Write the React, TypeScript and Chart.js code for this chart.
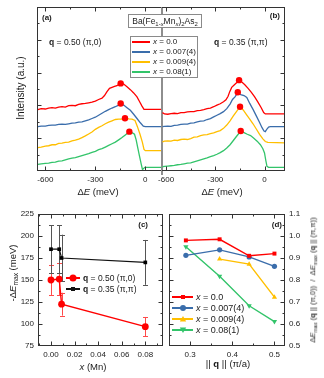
import React, { useEffect, useRef } from 'react';
import { Chart, registerables } from 'chart.js';
Chart.register(...registerables);

const FONT = '"Liberation Sans", Arial, Helvetica, sans-serif';
const W = 324;
const H = 378;

type Pt = [number, number];

// ---------- colours ----------
const C_RED = '#ff0000';
const C_BLUE = '#3a6dab';
const C_ORANGE = '#ffbf00';
const C_GREEN = '#33c46a';

// ---------- panel (a): q = 0.50 (pi,0) spectra [ΔE (meV), intensity a.u.] ----------
const specA_x000: Pt[] = [[-645,1.87],[-625,1.90],[-600,1.89],[-580,1.92],[-560,1.93],[-540,1.92],[-520,1.95],[-500,1.96],[-480,1.95],[-460,1.99],[-440,2.00],[-420,1.99],[-400,2.03],[-380,2.05],[-360,2.06],[-340,2.08],[-320,2.10],[-300,2.13],[-280,2.18],[-260,2.22],[-245,2.30],[-230,2.42],[-215,2.52],[-200,2.55],[-185,2.58],[-170,2.60],[-150,2.68],[-130,2.65],[-110,2.57],[-90,2.48],[-70,2.38],[-50,2.26],[-35,2.12],[-20,1.98],[-8,1.88],[100,1.88]];
const specA_x007: Pt[] = [[-645,1.35],[-625,1.37],[-600,1.37],[-580,1.39],[-560,1.40],[-540,1.40],[-520,1.42],[-500,1.43],[-480,1.42],[-460,1.44],[-440,1.46],[-420,1.47],[-400,1.49],[-380,1.50],[-360,1.53],[-340,1.56],[-320,1.60],[-300,1.64],[-280,1.70],[-260,1.76],[-240,1.82],[-220,1.87],[-200,1.92],[-180,1.96],[-160,2.01],[-148,2.05],[-130,2.01],[-110,1.93],[-90,1.85],[-70,1.73],[-50,1.60],[-30,1.47],[-12,1.37],[0,1.35],[100,1.35]];
const specA_x009: Pt[] = [[-645,0.71],[-625,0.73],[-600,0.76],[-580,0.77],[-560,0.80],[-540,0.80],[-520,0.84],[-500,0.85],[-480,0.87],[-460,0.88],[-440,0.92],[-420,0.94],[-400,0.97],[-380,1.02],[-360,1.07],[-340,1.13],[-320,1.19],[-300,1.27],[-280,1.33],[-260,1.38],[-240,1.44],[-220,1.49],[-200,1.53],[-180,1.57],[-160,1.58],[-140,1.58],[-122,1.61],[-100,1.59],[-80,1.58],[-62,1.54],[-48,1.36],[-32,1.12],[-18,0.88],[-8,0.66],[0,0.62],[100,0.62]];
const specA_x080: Pt[] = [[-645,0.20],[-625,0.22],[-600,0.23],[-580,0.24],[-560,0.26],[-540,0.27],[-520,0.30],[-500,0.31],[-480,0.34],[-460,0.37],[-440,0.39],[-420,0.41],[-400,0.44],[-380,0.47],[-360,0.50],[-340,0.53],[-320,0.57],[-300,0.60],[-280,0.65],[-260,0.68],[-240,0.73],[-220,0.78],[-200,0.83],[-180,0.88],[-160,0.95],[-140,1.02],[-120,1.10],[-96,1.20],[-80,1.17],[-65,1.12],[-55,0.95],[-45,0.70],[-35,0.45],[-25,0.22],[-17,0.04],[-10,0.08],[-3,0.11],[100,0.11]];
const peaksA_E = [-148, -148, -122, -96];
const peaksA_I = [2.67, 2.06, 1.61, 1.20];

// ---------- panel (b): q = 0.35 (pi,pi) spectra ----------
const specB_x000: Pt[] = [[-622,1.78],[-610,1.74],[-590,1.73],[-570,1.75],[-550,1.76],[-530,1.75],[-510,1.78],[-490,1.78],[-470,1.80],[-450,1.81],[-430,1.81],[-410,1.84],[-390,1.85],[-370,1.87],[-350,1.90],[-330,1.92],[-310,1.96],[-290,2.01],[-270,2.05],[-250,2.11],[-235,2.17],[-222,2.28],[-212,2.42],[-200,2.55],[-185,2.62],[-172,2.68],[-155,2.76],[-140,2.72],[-120,2.63],[-100,2.52],[-80,2.40],[-60,2.26],[-40,2.10],[-20,1.93],[-5,1.78],[5,1.74],[125,1.74]];
const specB_x007: Pt[] = [[-622,1.35],[-610,1.36],[-590,1.37],[-570,1.36],[-550,1.39],[-530,1.40],[-510,1.42],[-490,1.43],[-470,1.43],[-450,1.46],[-430,1.47],[-410,1.50],[-390,1.52],[-370,1.53],[-350,1.57],[-330,1.60],[-310,1.65],[-290,1.70],[-270,1.75],[-250,1.81],[-230,1.90],[-210,2.04],[-195,2.18],[-180,2.26],[-163,2.39],[-145,2.33],[-125,2.30],[-108,2.24],[-90,2.06],[-70,1.88],[-50,1.68],[-30,1.48],[-15,1.32],[-3,1.22],[5,1.20],[15,1.28],[25,1.34],[35,1.35],[125,1.35]];
const specB_x009: Pt[] = [[-622,0.89],[-610,0.91],[-590,0.92],[-570,0.91],[-550,0.94],[-530,0.93],[-510,0.96],[-490,0.97],[-470,0.96],[-450,0.99],[-430,1.03],[-410,1.04],[-390,1.08],[-370,1.10],[-350,1.11],[-330,1.14],[-310,1.16],[-290,1.20],[-270,1.23],[-250,1.30],[-230,1.40],[-210,1.53],[-190,1.68],[-170,1.82],[-149,1.96],[-130,1.86],[-110,1.72],[-90,1.58],[-70,1.44],[-50,1.28],[-30,1.12],[-10,0.98],[5,0.90],[20,0.87],[125,0.86]];
const specB_x080: Pt[] = [[-622,0.13],[-610,0.14],[-590,0.15],[-570,0.16],[-550,0.17],[-530,0.19],[-510,0.20],[-490,0.22],[-470,0.24],[-450,0.25],[-430,0.28],[-410,0.31],[-390,0.34],[-370,0.37],[-350,0.40],[-330,0.44],[-310,0.47],[-290,0.51],[-270,0.56],[-250,0.62],[-230,0.70],[-210,0.80],[-190,0.93],[-170,1.06],[-145,1.22],[-125,1.17],[-105,1.12],[-85,1.08],[-65,1.00],[-45,0.91],[-25,0.80],[-10,0.68],[0,0.55],[8,0.32],[15,0.14],[25,0.11],[125,0.11]];
const peaksB_E = [-155, -163, -149, -145];
const peaksB_I = [2.77, 2.40, 1.96, 1.22];

const dETickLabels = [-600, -300, 0];
const dEMinor = [-450, -150];
const intMajor = [0, 1, 2, 3, 4, 5];
const intMinor = [0.5, 1.5, 2.5, 3.5, 4.5];

// ---------- panel (c) ----------
const xMn = [0.0, 0.007, 0.009, 0.08];
const dEmaxPi0 = [150, 151, 122.5, 97];
const errPi0 = [17, 18, 13, 11];
const dEmaxPiPi = [185, 185, 175, 170];
const errPiPi = [27, 27, 26.5, 25.5];
const xMnTicks = [0, 0.02, 0.04, 0.06, 0.08];
const xMnMinor = [-0.01, 0.01, 0.03, 0.05, 0.07, 0.09];
const dEmaxTicks = [75, 100, 125, 150, 175, 200, 225];
const dEmaxMinor = [87.5, 112.5, 137.5, 162.5, 187.5, 212.5];

// ---------- panel (d) ----------
const qNorm = [0.29, 0.37, 0.44, 0.5];
const ratio_x000 = [0.98, 0.985, 0.91, 0.92];
const ratio_x007 = [0.912, 0.937, 0.905, 0.862];
const ratio_x009 = [null, 0.895, 0.872, 0.722];
const ratio_x080 = [0.951, 0.817, 0.683, 0.611];
const qTicks = [0.3, 0.4, 0.5];
const qMinor = [0.25, 0.35, 0.45];
const ratioTicks = [0.5, 0.6, 0.7, 0.8, 0.9, 1.0, 1.1];
const ratioMinor = [0.55, 0.65, 0.75, 0.85, 0.95, 1.05];

const legendX = ['0.0', '0.007(4)', '0.009(4)', '0.08(1)'];
const seriesColors = [C_RED, C_BLUE, C_ORANGE, C_GREEN];

// ---------- plugins ----------
const framePlugin = {
  id: 'frame',
  afterDatasetsDraw(chart: any, _args: any, o: any) {
    const { ctx, chartArea: a } = chart;
    const xs = chart.scales.x;
    const ys = chart.scales.y;
    const L = Math.round(a.left) + 0.5;
    const R = Math.round(a.right) - 0.5;
    const T = Math.round(a.top) + 0.5;
    const B = Math.round(a.bottom) - 0.5;
    ctx.save();
    ctx.strokeStyle = '#333';
    ctx.lineWidth = 1;
    ctx.beginPath();
    const tx = (vals: number[], len: number) => {
      for (const v of vals || []) {
        const p = Math.round(xs.getPixelForValue(v)) + 0.5;
        if (p < L + 1 || p > R - 1) continue;
        if (o.bottom) { ctx.moveTo(p, B); ctx.lineTo(p, B - len); }
        if (o.top) { ctx.moveTo(p, T); ctx.lineTo(p, T + len); }
      }
    };
    const ty = (vals: number[], len: number) => {
      for (const v of vals || []) {
        const p = Math.round(ys.getPixelForValue(v)) + 0.5;
        if (p < T + 1 || p > B - 1) continue;
        if (o.left) { ctx.moveTo(L, p); ctx.lineTo(L + len, p); }
        if (o.right) { ctx.moveTo(R, p); ctx.lineTo(R - len, p); }
      }
    };
    tx(o.xMajor, 4); tx(o.xMinor, 2); ty(o.yMajor, 4); ty(o.yMinor, 2);
    if (o.left) { ctx.moveTo(L, T - 0.5); ctx.lineTo(L, B + 0.5); }
    if (o.right) { ctx.moveTo(R, T - 0.5); ctx.lineTo(R, B + 0.5); }
    if (o.top) { ctx.moveTo(L - 0.5, T); ctx.lineTo(R + 0.5, T); }
    if (o.bottom) { ctx.moveTo(L - 0.5, B); ctx.lineTo(R + 0.5, B); }
    ctx.stroke();
    if (o.divider) {
      ctx.strokeStyle = '#8e8e8e';
      ctx.lineWidth = 2;
      ctx.beginPath();
      ctx.moveTo(Math.round(a.right), a.top);
      ctx.lineTo(Math.round(a.right), a.bottom + 4);
      ctx.stroke();
    }
    ctx.restore();
  },
};

const errorBarPlugin = {
  id: 'errbars',
  beforeDatasetsDraw(chart: any) {
    const { ctx } = chart;
    const xs = chart.scales.x;
    const ys = chart.scales.y;
    ctx.save();
    chart.data.datasets.forEach((ds: any) => {
      if (!ds.errs) return;
      ctx.strokeStyle = ds.errColor;
      ctx.lineWidth = 1;
      ds.data.forEach((p: any, i: number) => {
        const e = ds.errs[i];
        const x = Math.round(xs.getPixelForValue(p.x)) + 0.5;
        const y1 = ys.getPixelForValue(p.y - e);
        const y2 = ys.getPixelForValue(p.y + e);
        ctx.beginPath();
        ctx.moveTo(x, y1); ctx.lineTo(x, y2);
        ctx.moveTo(x - 2.5, Math.round(y1) + 0.5); ctx.lineTo(x + 2.5, Math.round(y1) + 0.5);
        ctx.moveTo(x - 2.5, Math.round(y2) + 0.5); ctx.lineTo(x + 2.5, Math.round(y2) + 0.5);
        ctx.stroke();
      });
    });
    ctx.restore();
  },
};

// ---------- helpers ----------
const tickFont = { family: FONT, size: 8 };

function axis(position: string, min: number, max: number, labels: number[], fmt: (v: number) => string, size: number, pad: number) {
  return {
    type: 'linear',
    position,
    min,
    max,
    grid: { display: false, drawTicks: false },
    border: { display: false },
    afterBuildTicks: (s: any) => { s.ticks = labels.map((v) => ({ value: v })); },
    afterFit: (s: any) => {
      if (position === 'bottom' || position === 'top') s.height = size; else s.width = size;
    },
    ticks: {
      display: labels.length > 0,
      font: tickFont,
      color: '#222',
      padding: pad,
      autoSkip: false,
      maxRotation: 0,
      callback: (v: any) => fmt(Number(v)),
    },
  };
}

const xy = (arr: Pt[]) => arr.map(([x, y]) => ({ x, y }));
const zip = (xs: number[], ys: (number | null)[]) => xs.map((x, i) => ({ x, y: ys[i] }));

function spectrumChart(specs: Pt[][], peaksE: number[], peaksI: number[], xmin: number, xmax: number, padding: any, frame: any) {
  return {
    type: 'scatter',
    data: {
      datasets: [
        {
          data: zip(peaksE, peaksI),
          pointRadius: 3.2,
          pointBackgroundColor: C_RED,
          pointBorderWidth: 0,
          showLine: false,
        },
        ...specs.map((s, i) => ({
          data: xy(s),
          showLine: true,
          borderColor: seriesColors[i],
          borderWidth: 1.3,
          pointRadius: 0,
          tension: 0,
        })),
      ],
    },
    options: {
      responsive: false,
      animation: false,
      devicePixelRatio: 1,
      layout: { padding },
      plugins: { legend: { display: false }, tooltip: { enabled: false }, frame },
      scales: {
        x: axis('bottom', xmin, xmax, dETickLabels, (v) => String(v), 30, 4),
        y: axis('left', 0, 5, [], (v) => String(v), 0, 0),
      },
    },
    plugins: [framePlugin],
  };
}

function makeConfigs() {
  const a = spectrumChart(
    [specA_x000, specA_x007, specA_x009, specA_x080], peaksA_E, peaksA_I, -650, 100,
    { left: 37, top: 7, right: W - 162, bottom: H - 171 - 30 },
    { xMajor: dETickLabels, xMinor: dEMinor, yMajor: intMajor, yMinor: intMinor, left: true, top: true, bottom: true, right: false, divider: true },
  );
  const b = spectrumChart(
    [specB_x000, specB_x007, specB_x009, specB_x080], peaksB_E, peaksB_I, -625, 125,
    { left: 162, top: 7, right: W - 285, bottom: H - 171 - 30 },
    { xMajor: dETickLabels, xMinor: dEMinor, yMajor: intMajor, yMinor: intMinor, left: false, top: true, bottom: true, right: true },
  );
  const c = {
    type: 'scatter',
    data: {
      datasets: [
        {
          data: zip(xMn, dEmaxPi0),
          errs: errPi0,
          errColor: '#ff4a4a',
          showLine: true,
          borderColor: C_RED,
          borderWidth: 1.4,
          pointRadius: 3.4,
          pointBackgroundColor: C_RED,
          pointBorderWidth: 0,
        },
        {
          data: zip(xMn, dEmaxPiPi),
          errs: errPiPi,
          errColor: '#555',
          showLine: true,
          borderColor: '#111',
          borderWidth: 1.2,
          pointStyle: 'rect',
          pointRadius: 2.6,
          pointBackgroundColor: '#000',
          pointBorderWidth: 0,
        },
      ],
    },
    options: {
      responsive: false,
      animation: false,
      devicePixelRatio: 1,
      layout: { padding: { left: 38 - 30, top: 214, right: W - 163, bottom: H - 346 - 22 } },
      plugins: {
        legend: { display: false }, tooltip: { enabled: false },
        frame: { xMajor: xMnTicks, xMinor: xMnMinor, yMajor: dEmaxTicks, yMinor: dEmaxMinor, left: true, right: true, top: true, bottom: true },
      },
      scales: {
        x: axis('bottom', -0.011, 0.095, xMnTicks, (v) => v.toFixed(2), 22, 4),
        y: axis('left', 75, 225, dEmaxTicks, (v) => String(v), 30, 4),
      },
    },
    plugins: [framePlugin, errorBarPlugin],
  };
  const dSeries = [ratio_x000, ratio_x007, ratio_x009, ratio_x080];
  const dStyles = ['rect', 'circle', 'triangle', 'triangle'];
  const dRot = [0, 0, 0, 180];
  const dRad = [2.8, 2.6, 3, 3];
  const d = {
    type: 'scatter',
    data: {
      datasets: dSeries.map((s, i) => ({
        data: zip(qNorm, s).filter((p) => p.y !== null),
        showLine: true,
        borderColor: seriesColors[i],
        borderWidth: 1.4,
        pointStyle: dStyles[i],
        rotation: dRot[i],
        pointRadius: dRad[i],
        pointBackgroundColor: seriesColors[i],
        pointBorderWidth: 0,
      })),
    },
    options: {
      responsive: false,
      animation: false,
      devicePixelRatio: 1,
      layout: { padding: { left: 169, top: 214, right: W - 285 - 30, bottom: H - 346 - 22 } },
      plugins: {
        legend: { display: false }, tooltip: { enabled: false },
        frame: { xMajor: qTicks, xMinor: qMinor, yMajor: ratioTicks, yMinor: ratioMinor, left: true, right: true, top: true, bottom: true },
      },
      scales: {
        x: axis('bottom', 0.25, 0.525, qTicks, (v) => v.toFixed(1), 22, 4),
        y: axis('right', 0.5, 1.1, ratioTicks, (v) => v.toFixed(1), 30, 4),
      },
    },
    plugins: [framePlugin],
  };
  return [a, b, c, d];
}

// ---------- text overlay helpers ----------
function T(props: { x: number; y: number; size?: number; align?: 'left' | 'center' | 'right'; bold?: boolean; rot?: number; children: any }) {
  const { x, y, size = 8, align = 'left', bold = false, rot = 0, children } = props;
  const tx = rot ? '-50%' : align === 'left' ? '0' : align === 'center' ? '-50%' : '-100%';
  return (
    <div
      style={{
        position: 'absolute', left: x, top: y,
        transform: `translate(${tx},-50%)${rot ? ` rotate(${rot}deg)` : ''}`,
        font: `${bold ? 'bold ' : ''}${size}px ${FONT}`,
        lineHeight: 1, whiteSpace: 'nowrap', color: '#1a1a1a',
      }}
    >
      {children}
    </div>
  );
}

const subStyle: any = { fontSize: '0.7em', verticalAlign: '-0.3em', lineHeight: 0 };
const Sub = ({ children }: any) => <span style={subStyle}>{children}</span>;
const I = ({ children }: any) => <i>{children}</i>;
const Bq = () => <b>q</b>;

function Marker({ style, color }: { style: string; color: string }) {
  let shape: any = null;
  if (style === 'circle') shape = <circle cx={5} cy={5} r={3} fill={color} />;
  if (style === 'bigcircle') shape = <circle cx={5} cy={5} r={3.5} fill={color} />;
  if (style === 'rect') shape = <rect x={3} y={3} width={4} height={4} fill={color} />;
  if (style === 'up') shape = <polygon points="5,2 8.2,7.5 1.8,7.5" fill={color} />;
  if (style === 'down') shape = <polygon points="5,8 8.2,2.5 1.8,2.5" fill={color} />;
  return <svg width={10} height={10} style={{ position: 'absolute', left: -5, top: -5 }}>{shape}</svg>;
}

function LegendRow({ x1, x2, y, color, marker, text, textX, size }: any) {
  return (
    <>
      <div style={{ position: 'absolute', left: x1, top: y - 0.75, width: x2 - x1, height: 1.5, background: color }} />
      {marker && (
        <div style={{ position: 'absolute', left: (x1 + x2) / 2, top: y, width: 0, height: 0 }}>
          <Marker style={marker} color={color} />
        </div>
      )}
      <T x={textX} y={y} size={size}>{text}</T>
    </>
  );
}

export default function App() {
  const refs = [useRef<HTMLCanvasElement>(null), useRef<HTMLCanvasElement>(null), useRef<HTMLCanvasElement>(null), useRef<HTMLCanvasElement>(null)];
  useEffect(() => {
    const cfgs = makeConfigs();
    const charts = cfgs.map((cfg, i) => new Chart(refs[i].current as HTMLCanvasElement, cfg as any));
    return () => charts.forEach((c) => c.destroy());
  }, []);

  const dMarkers = ['rect', 'circle', 'up', 'down'];
  return (
    <div style={{ position: 'absolute', left: 0, top: 0, width: W, height: H, background: '#fff', overflow: 'hidden' }}>
      {refs.map((r, i) => (
        <canvas key={i} ref={r} width={W} height={H} style={{ position: 'absolute', left: 0, top: 0, width: W, height: H }} />
      ))}

      {/* panel (a)/(b) texts */}
      <T x={21} y={88} size={10} rot={-90}>Intensity (a.u.)</T>
      <T x={98} y={192} size={9.5} align="center">Δ<I>E</I> (meV)</T>
      <T x={222} y={192} size={9.5} align="center">Δ<I>E</I> (meV)</T>
      <T x={42} y={18} size={8} bold>(a)</T>
      <T x={280} y={16} size={8} bold align="right">(b)</T>
      <T x={49} y={42} size={8.5}><Bq /> = 0.50 (π,0)</T>
      <T x={214} y={42} size={8.5}><Bq /> = 0.35 (π,π)</T>

      <div style={{ position: 'absolute', left: 128, top: 14, width: 74, height: 14, border: '1px solid #8a8a8a', background: '#fff', boxSizing: 'border-box' }} />
      <T x={165} y={21} size={8.5} align="center">Ba(Fe<Sub>1-<I>x</I></Sub>Mn<Sub><I>x</I></Sub>)<Sub>2</Sub>As<Sub>2</Sub></T>

      <div style={{ position: 'absolute', left: 130, top: 36, width: 68, height: 42, border: '1px solid #8a8a8a', background: '#fff', boxSizing: 'border-box' }} />
      {legendX.map((t, i) => (
        <LegendRow key={i} x1={132} x2={150} y={42 + i * 10} color={seriesColors[i]} textX={153} size={8} text={<><I>x</I> = {t}</>} />
      ))}

      {/* panel (c) texts */}
      <T x={12.5} y={273} size={9.5} rot={-90}>-Δ<I>E</I><Sub>max</Sub> (meV)</T>
      <T x={93} y={367} size={9.5} align="center"><I>x</I> (Mn)</T>
      <T x={148} y={225} size={8} bold align="right">(c)</T>
      <LegendRow x1={66} x2={80} y={278} color={C_RED} marker="bigcircle" textX={83} size={8.5} text={<><Bq /> = 0.50 (π,0)</>} />
      <LegendRow x1={66} x2={80} y={289} color="#111" marker="rect" textX={83} size={8.5} text={<><Bq /> = 0.35 (π,π)</>} />

      {/* panel (d) texts */}
      <T x={228} y={364} size={9.5} align="center">|| <Bq /> || (π/a)</T>
      <T x={282} y={225} size={8} bold align="right">(d)</T>
      <T x={313} y={280} size={7.6} rot={-90}>Δ<I>E</I><Sub>max</Sub> (<Bq /> || (π,0))&nbsp; / &nbsp;Δ<I>E</I><Sub>max</Sub> (<Bq /> || (π,π))</T>
      {legendX.map((t, i) => (
        <LegendRow key={'d' + i} x1={172} x2={193} y={297 + i * 11} color={seriesColors[i]} marker={dMarkers[i]} textX={196} size={9} text={<><I>x</I> = {t}</>} />
      ))}
    </div>
  );
}
